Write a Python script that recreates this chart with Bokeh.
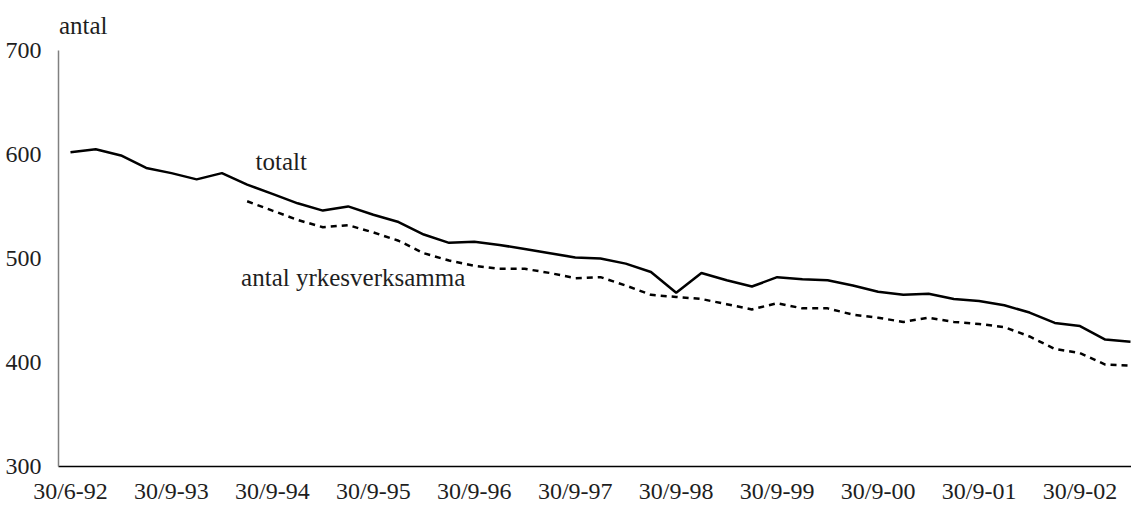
from bokeh.plotting import figure
from bokeh.models import Range1d, FixedTicker, Label, ColumnDataSource
from bokeh.embed import file_html
from bokeh.resources import INLINE

totalt = [602, 605, 599, 587, 582, 576, 582, 571, 562, 553,
          546, 550, 542, 535, 523, 515, 516, 513, 509, 505,
          501, 500, 495, 487, 467, 486, 479, 473, 482, 480,
          479, 474, 468, 465, 466, 461, 459, 455, 448, 438,
          435, 422, 420]
yrkesverksamma_start = 7
yrkesverksamma = [555, 546, 537, 530, 532, 525, 517, 505, 498, 493,
                  490, 490, 486, 481, 482, 474, 465, 463, 461, 456,
                  451, 457, 452, 452, 446, 443, 439, 443, 439, 437,
                  434, 425, 413, 409, 398, 397]
tick_labels = ["30/6-92", "30/9-93", "30/9-94", "30/9-95", "30/9-96", "30/9-97",
               "30/9-98", "30/9-99", "30/9-00", "30/9-01", "30/9-02"]
label_every = 4
y_ticks = [300, 400, 500, 600, 700]

FONT = "Liberation Serif"
TXT = "#1e1e1e"

src_tot = ColumnDataSource(dict(x=list(range(len(totalt))), y=totalt))
src_yrk = ColumnDataSource(dict(
    x=list(range(yrkesverksamma_start, yrkesverksamma_start + len(yrkesverksamma))),
    y=yrkesverksamma))

p = figure(width=1131, height=506, output_backend="svg", toolbar_location=None,
           x_range=Range1d(-0.475, 42.04), y_range=Range1d(300, 744.1),
           min_border_left=58, min_border_right=0, min_border_top=4, min_border_bottom=39)
p.outline_line_color = None
p.xgrid.visible = False
p.ygrid.visible = False
p.background_fill_color = "white"
p.border_fill_color = "white"

p.line("x", "y", source=src_tot, line_color="black", line_width=2.5)
p.line("x", "y", source=src_yrk, line_color="black", line_width=2.5, line_dash="6 5")

# x axis: a label every 4th observation
xt = [label_every * i for i in range(len(tick_labels))]
p.xaxis.ticker = FixedTicker(ticks=xt)
p.xaxis.major_label_overrides = {t: lab for t, lab in zip(xt, tick_labels)}
p.xaxis.major_tick_line_color = None
p.xaxis.minor_tick_line_color = None
p.xaxis.axis_line_color = "black"
p.xaxis.axis_line_width = 1.5
p.xaxis.major_label_text_font = FONT
p.xaxis.major_label_text_font_size = "24px"
p.xaxis.major_label_text_color = TXT
p.xaxis.major_label_standoff = 5

p.yaxis.ticker = FixedTicker(ticks=y_ticks)
p.yaxis.bounds = (300, 700)
p.yaxis.major_tick_line_color = None
p.yaxis.minor_tick_line_color = None
p.yaxis.axis_line_color = "#808080"
p.yaxis.axis_line_width = 1.5
p.yaxis.major_label_text_font = FONT
p.yaxis.major_label_text_font_size = "24px"
p.yaxis.major_label_text_color = TXT
p.yaxis.major_label_standoff = 11

p.add_layout(Label(x=-0.46, y=724, text="antal", text_font=FONT, text_font_size="25px",
                   text_color=TXT, text_baseline="alphabetic"))
p.add_layout(Label(x=7.33, y=593, text="totalt", text_font=FONT, text_font_size="25px",
                   text_color=TXT, text_baseline="alphabetic"))
p.add_layout(Label(x=6.76, y=482, text="antal yrkesverksamma", text_font=FONT,
                   text_font_size="25px", text_color=TXT, text_baseline="alphabetic"))

open("out.html", "w").write(file_html(p, INLINE))
